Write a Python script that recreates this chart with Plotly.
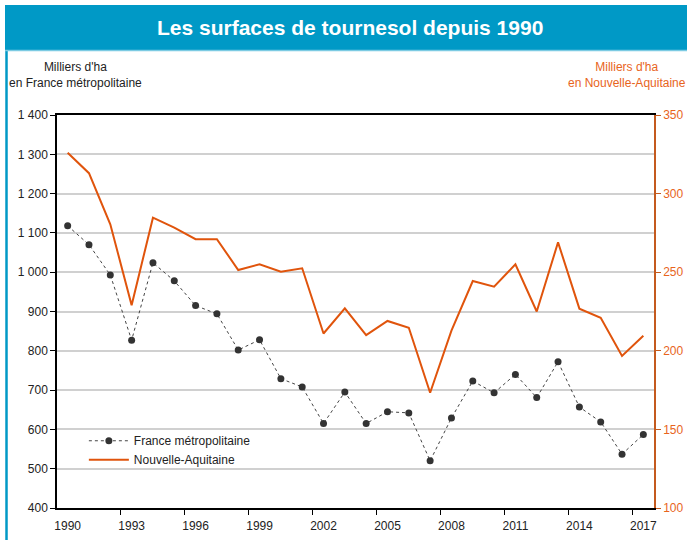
import plotly.graph_objects as go

years = list(range(1990, 2018))
france = [1118, 1070, 993, 827, 1024, 978, 915, 894, 802, 828, 729, 708, 615, 695,
          615, 645, 642, 520, 629, 723, 693, 740, 681, 772, 657, 619, 537, 587]
nouvelle_aquitaine = [326, 313, 280.5, 229, 284.7, 278.3, 271, 271, 251.4, 255, 250.3, 252.5,
                      211, 227, 210, 219, 214.7, 173.3, 212.8, 244.4, 240.8, 255, 225, 269,
                      226.8, 221, 196.7, 209.6]
label_years = list(range(1990, 2018, 3))
boundary_ticks = [y + 2.5 for y in range(1990, 2015, 3)]
left_ticks = list(range(400, 1401, 100))
left_ticktext = [f"{v:,}".replace(",", " ") for v in left_ticks]
right_ticks = list(range(100, 351, 50))

FONT = "Liberation Sans, Arial, sans-serif"
ORANGE = "#E0540C"
ORANGE_TXT = "#E8641C"
ORANGE_AX = "#C45A1E"
BLUE = "#0099C6"

fig = go.Figure()
fig.add_trace(go.Scatter(
    x=years, y=france, name="France métropolitaine", mode="lines+markers",
    line=dict(color="#444444", width=1, dash="dot"),
    marker=dict(color="#333333", size=7), yaxis="y", xaxis="x"))
fig.add_trace(go.Scatter(
    x=years, y=nouvelle_aquitaine, name="Nouvelle-Aquitaine", mode="lines",
    line=dict(color=ORANGE, width=2), yaxis="y2", xaxis="x"))

fig.update_layout(
    width=687, height=540,
    margin=dict(l=57, r=33, t=115, b=32),
    paper_bgcolor="white", plot_bgcolor="white",
    font=dict(family=FONT, size=12, color="#222222"),
    showlegend=True,
    legend=dict(x=0.045, y=0.208, xanchor="left", yanchor="top",
                bgcolor="rgba(0,0,0,0)", font=dict(size=12, color="#222222"),
                tracegroupgap=0, itemwidth=40),
    xaxis=dict(range=[1989.5, 2017.5], tickmode="array", tickvals=label_years,
               ticktext=[str(y) for y in label_years], ticks="",
               ticklabelstandoff=6, automargin=False,
               minor=dict(tickmode="array", tickvals=boundary_ticks, ticks="outside",
                          ticklen=5, tickcolor="black", tickwidth=1, showgrid=False),
               showline=True, linecolor="black", linewidth=1.5,
               mirror=True, showgrid=False, zeroline=False,
               tickfont=dict(size=12, color="#222222")),
    yaxis=dict(range=[400, 1400], tickmode="array", tickvals=left_ticks,
               ticktext=left_ticktext, ticks="outside", ticklen=5, tickcolor="black",
               showline=True, linecolor="black", linewidth=1.5, mirror=False,
               showgrid=True, gridcolor="#D0D0D0", gridwidth=1.5, zeroline=False,
               automargin=False, tickfont=dict(size=12, color="#222222")),
    yaxis2=dict(range=[100, 350], overlaying="y", side="right", tickmode="array",
                tickvals=right_ticks, ticks="outside", ticklen=5, tickcolor=ORANGE_AX,
                showline=True, linecolor=ORANGE_AX, linewidth=1.5, showgrid=False,
                zeroline=False, automargin=False,
                tickfont=dict(size=12, color=ORANGE_TXT)),
)

# banner and frame
fig.add_shape(type="rect", xref="paper", yref="paper",
              x0=(5 - 57) / 597, x1=(690 - 57) / 597,
              y0=(508 - 50) / 393, y1=(508 - 5) / 393,
              fillcolor=BLUE, line=dict(width=0), layer="above")
fig.add_shape(type="line", xref="paper", yref="paper",
              x0=(6.5 - 57) / 597, x1=(6.5 - 57) / 597,
              y0=(508 - 50) / 393, y1=(508 - 545) / 393,
              line=dict(color=BLUE, width=2.5))
fig.add_shape(type="line", xref="paper", yref="paper",
              x0=(5 - 57) / 597, x1=(690 - 57) / 597,
              y0=(508 - 50.5) / 393, y1=(508 - 50.5) / 393,
              line=dict(color="#7CCBE3", width=1.5))

fig.add_annotation(text="<b>Les surfaces de tournesol depuis 1990</b>",
                   xref="paper", yref="paper", x=(350 - 57) / 597, y=(508 - 27) / 393,
                   xanchor="center", yanchor="middle", showarrow=False,
                   font=dict(size=21, color="white", family=FONT))
fig.add_annotation(text="Milliers d'ha<br>en France métropolitaine",
                   xref="paper", yref="paper", x=(75 - 57) / 597, y=(508 - 75) / 393,
                   xanchor="center", yanchor="middle", showarrow=False,
                   font=dict(size=12, color="#222222", family=FONT))
fig.add_annotation(text="Milliers d'ha<br>en Nouvelle-Aquitaine",
                   xref="paper", yref="paper", x=(627 - 57) / 597, y=(508 - 75) / 393,
                   xanchor="center", yanchor="middle", showarrow=False,
                   font=dict(size=12, color=ORANGE_TXT, family=FONT))

fig.write_html("out.html", config={"displayModeBar": False},
               post_script="document.body.style.margin='0';")
